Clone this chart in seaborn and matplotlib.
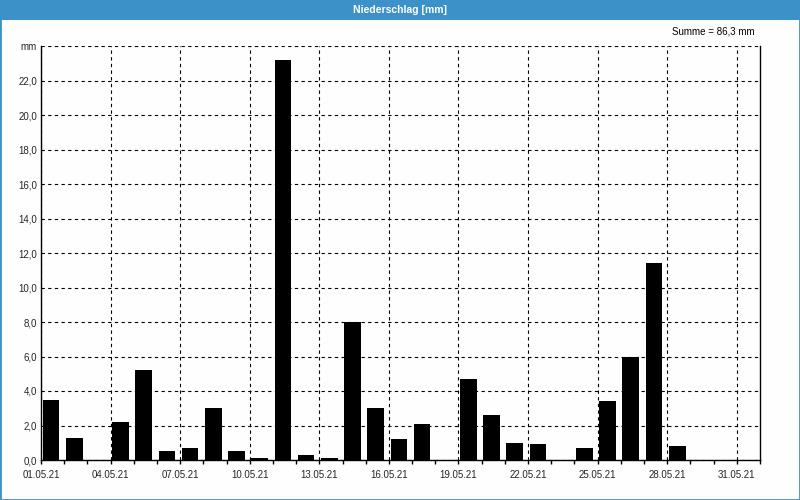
import matplotlib
matplotlib.use('Agg')
import matplotlib.pyplot as plt
import seaborn as sns
import pandas as pd
import numpy as np
from matplotlib.patches import Rectangle

# ---- data ----
days = ["01.05.21", "02.05.21", "03.05.21", "04.05.21", "05.05.21", "06.05.21",
        "07.05.21", "08.05.21", "09.05.21", "10.05.21", "11.05.21", "12.05.21",
        "13.05.21", "14.05.21", "15.05.21", "16.05.21", "17.05.21", "18.05.21",
        "19.05.21", "20.05.21", "21.05.21", "22.05.21", "23.05.21", "24.05.21",
        "25.05.21", "26.05.21", "27.05.21", "28.05.21", "29.05.21", "30.05.21",
        "31.05.21"]
precip = [3.5, 1.3, 0.0, 2.2, 5.2, 0.5, 0.7, 3.0, 0.5, 0.1,
          23.2, 0.3, 0.1, 8.0, 3.0, 1.2, 2.1, 0.0, 4.7, 2.6,
          1.0, 0.9, 0.0, 0.7, 3.4, 6.0, 11.4, 0.8, 0.0, 0.0, 0.0]
y_tick_values = [0, 2, 4, 6, 8, 10, 12, 14, 16, 18, 20, 22, 24]
y_tick_labels = ["0,0", "2,0", "4,0", "6,0", "8,0", "10,0", "12,0", "14,0",
                 "16,0", "18,0", "20,0", "22,0", "mm"]
title = "Niederschlag [mm]"
summe = "Summe = 86,3 mm"

# ---- style ----
sns.set_style('white')
plt.rcParams['font.family'] = ['Liberation Sans', 'DejaVu Sans']
BLUE = '#3c91c9'
BG = '#fdfefd'

W, H = 800, 500
fig = plt.figure(figsize=(8, 5), dpi=100, facecolor=BG)
ax = fig.add_axes([41 / W, 1 - 460 / H, (760 - 41) / W, (460 - 46) / H])
ax.set_facecolor(BG)

df = pd.DataFrame({'Datum': days, 'Niederschlag': precip})
sns.barplot(data=df, x='Datum', y='Niederschlag', color='black', width=0.72,
            saturation=1, edgecolor='none', linewidth=0, ax=ax)

off = 0.43
n = len(days)
ax.set_xlim(-off, n - off)
ax.set_ylim(0, 24)

major = np.arange(0, n, 3)
ax.set_xticks(major - off)
ax.set_xticklabels([days[i] for i in major])
ax.set_xticks(np.arange(n + 1) - off, minor=True)
ax.tick_params(axis='x', which='both', direction='out', length=3, width=1,
               color='black', labelsize=7, pad=4, bottom=True)

ax.set_yticks(y_tick_values)
ax.set_yticklabels(y_tick_labels)
ax.tick_params(axis='y', length=0, labelsize=7, pad=3)

ax.set_axisbelow(True)
ax.grid(True, axis='both', which='major', color='black', linestyle=(0, (3, 3)),
        linewidth=0.8)

for side in ['left', 'bottom', 'right']:
    ax.spines[side].set_visible(True)
    ax.spines[side].set_color('black')
    ax.spines[side].set_linewidth(1)
ax.spines['top'].set_visible(False)
ax.set_xlabel('')
ax.set_ylabel('')

# title bar & border
fig.patches.append(Rectangle((0, 1 - 20 / H), 1, 20 / H, transform=fig.transFigure,
                             facecolor=BLUE, edgecolor='none', zorder=0))
fig.patches.append(Rectangle((0, 0), 1, 1, transform=fig.transFigure, fill=False,
                             edgecolor=BLUE, linewidth=2, zorder=5))
fig.text(0.5, 1 - 10 / H, title, ha='center', va='center', color='white',
         fontsize=7.5, fontweight='bold')
fig.text(755 / W, 1 - 31 / H, summe, ha='right', va='center', color='black',
         fontsize=7)

fig.savefig('out.png', dpi=100, facecolor=fig.get_facecolor())
